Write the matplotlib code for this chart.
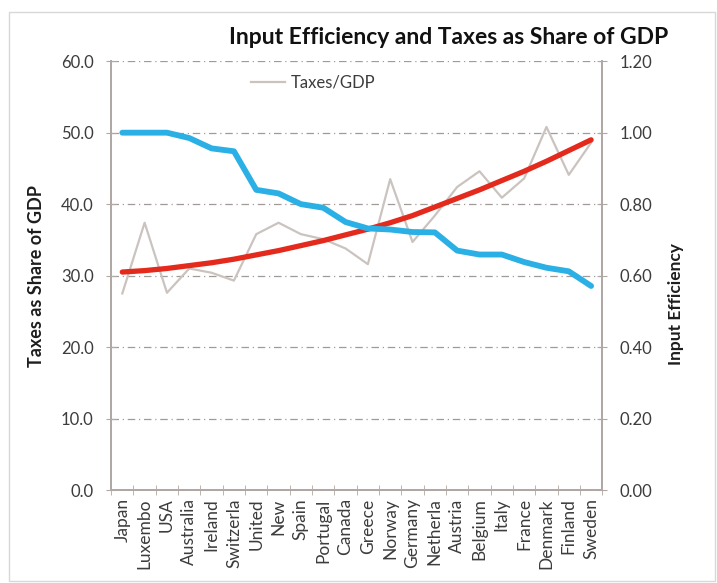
import matplotlib
matplotlib.use("Agg")
import matplotlib.pyplot as plt
from matplotlib.patches import Rectangle

plt.rcParams['font.family'] = ['Lato', 'DejaVu Sans']

countries = ['Japan', 'Luxembo', 'USA', 'Australia', 'Ireland', 'Switzerla', 'United',
             'New', 'Spain', 'Portugal', 'Canada', 'Greece', 'Norway', 'Germany',
             'Netherla', 'Austria', 'Belgium', 'Italy', 'France', 'Denmark', 'Finland', 'Sweden']

# taxes as share of GDP (left axis)
taxes = [27.5, 37.4, 27.6, 31.0, 30.4, 29.3, 35.8, 37.4, 35.8, 35.1, 33.8, 31.6,
         43.5, 34.7, 38.4, 42.4, 44.6, 40.9, 43.6, 50.8, 44.1, 48.6]
# trend of taxes (left axis)
taxes_trend = [30.5, 30.7, 31.0, 31.4, 31.8, 32.3, 32.9, 33.5, 34.2, 34.9, 35.7, 36.5,
               37.4, 38.4, 39.6, 40.8, 42.0, 43.3, 44.6, 46.0, 47.5, 49.0]
# input efficiency (right axis)
efficiency = [1.00, 1.00, 1.00, 0.985, 0.956, 0.948, 0.84, 0.83, 0.80, 0.79, 0.75, 0.732,
              0.729, 0.722, 0.721, 0.67, 0.659, 0.659, 0.638, 0.622, 0.612, 0.571]

txt = '#3c3c3c'
spine = '#b0a8a4'

fig = plt.figure(figsize=(7.17, 5.83), dpi=100)
fig.patches.append(Rectangle((0.012, 0.004), 0.985, 0.975, transform=fig.transFigure,
                             fill=False, edgecolor='#d8d8d8', linewidth=1))
ax = fig.add_axes([0.155, 0.1595, 0.685, 0.7355])
ax2 = ax.twinx()

x = list(range(len(countries)))
ax.plot(x, taxes, color='#cbc3bf', linewidth=1.6, label='Taxes/GDP', zorder=3)
ax.plot(x, taxes_trend, color='#e42a1c', linewidth=3.8, zorder=4, solid_capstyle='round')
ax2.plot(x, efficiency, color='#2bb0e6', linewidth=4.2, zorder=3, solid_capstyle='round')

ax.set_xlim(-0.5, len(countries) - 0.5)
ax.set_ylim(0, 60)
ax2.set_ylim(0, 1.2)
ax.set_yticks([0, 10, 20, 30, 40, 50, 60])
ax.set_yticklabels(['%.1f' % v for v in [0, 10, 20, 30, 40, 50, 60]])
ax2.set_yticks([0, 0.2, 0.4, 0.6, 0.8, 1.0, 1.2])
ax2.set_yticklabels(['%.2f' % v for v in [0, 0.2, 0.4, 0.6, 0.8, 1.0, 1.2]])

ax.set_xticks(x)
ax.set_xticklabels(countries, rotation=90, fontsize=12.5, color=txt)
ax.set_xticks([i - 0.5 for i in range(len(countries) + 1)], minor=True)
ax.tick_params(axis='x', which='major', length=0, pad=6)
ax.tick_params(axis='x', which='minor', length=7, direction='inout', color=spine)

ax.grid(axis='y', color='#a09a98', linestyle=(0, (6, 3, 1, 3)), linewidth=0.9)
ax.set_axisbelow(True)

for a in (ax, ax2):
    a.spines['top'].set_visible(False)
    for s in ('left', 'right', 'bottom'):
        a.spines[s].set_color(spine)
        a.spines[s].set_linewidth(1.4)
ax.tick_params(axis='y', length=7, direction='inout', color=spine, labelsize=12,
               labelcolor=txt, pad=9)
ax2.tick_params(axis='y', length=7, direction='inout', color=spine, labelsize=12,
                labelcolor=txt, pad=9)

ax.set_ylabel('Taxes as Share of GDP', fontsize=13, fontweight='bold', color='#1e1e1e')
ax.yaxis.set_label_coords(-0.135, 0.5)
ax2.set_ylabel('Input Efficiency', fontsize=12.5, fontweight='bold', color='#1e1e1e')
ax2.yaxis.set_label_coords(1.134, 0.434)

fig.text(0.626, 0.935, 'Input Efficiency and Taxes as Share of GDP', ha='center', va='center',
         fontsize=16.5, fontweight='bold', color='#111111')

ax.legend(loc='center left', bbox_to_anchor=(0.255, 0.95), frameon=False, fontsize=12,
          handlelength=2.0, handletextpad=0.35, labelcolor=txt)

fig.savefig('out.png', dpi=100)
